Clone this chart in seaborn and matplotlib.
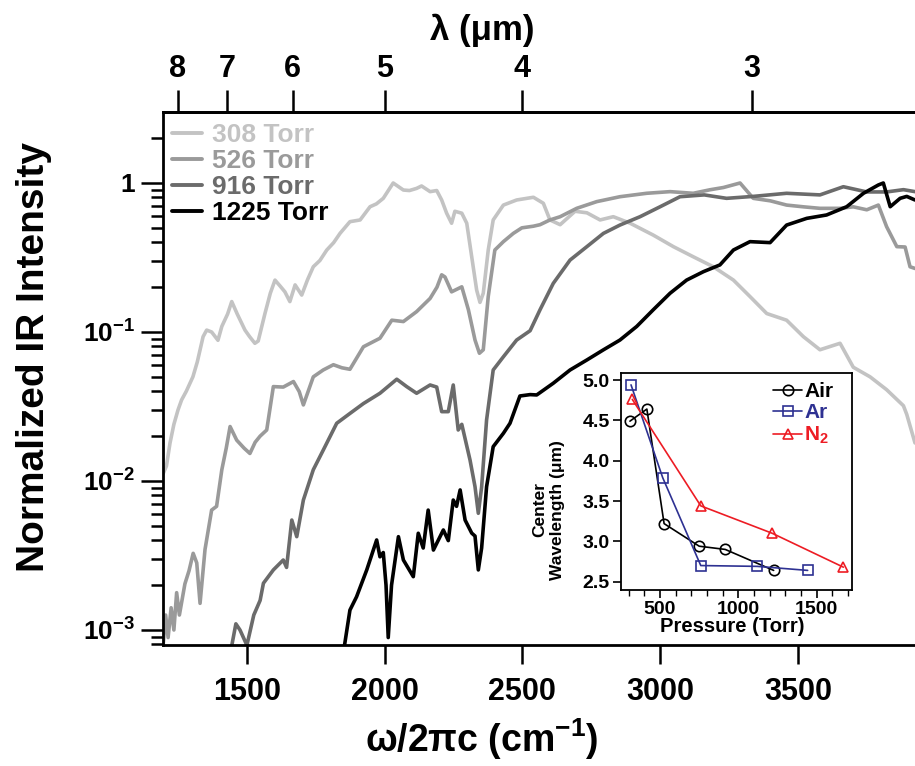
import matplotlib
matplotlib.use("Agg")
import numpy as np
import pandas as pd
import matplotlib.pyplot as plt
import seaborn as sns
from matplotlib.lines import Line2D
from matplotlib.ticker import FixedLocator, FixedFormatter, LogLocator, NullFormatter, MultipleLocator, FormatStrFormatter

# ---------------- main spectra ----------------
omega_308 = [1196, 1208, 1221, 1235, 1250, 1263, 1280, 1304, 1320, 1341, 1354, 1372, 1395, 1409, 1430,
             1445, 1465, 1493, 1510, 1529, 1541, 1566, 1585, 1602, 1620, 1638, 1656, 1675, 1699, 1720,
             1741, 1765, 1790, 1815, 1838, 1874, 1911, 1947, 1970, 1995, 2031, 2068, 2090, 2116, 2134,
             2165, 2189, 2207, 2225, 2243, 2255, 2280, 2298, 2316, 2334, 2346, 2358, 2376, 2394, 2431,
             2479, 2540, 2576, 2600, 2637, 2691, 2734, 2782, 2830, 2891, 2975, 3048, 3120, 3193, 3266,
             3326, 3387, 3459, 3520, 3580, 3653, 3701, 3762, 3822, 3883, 3895, 3925]
int_308 = [0.0112, 0.0126, 0.018, 0.024, 0.030, 0.035, 0.040, 0.050, 0.063, 0.093, 0.103, 0.100, 0.088, 0.109, 0.132,
           0.160, 0.132, 0.103, 0.093, 0.084, 0.087, 0.134, 0.182, 0.223, 0.204, 0.186, 0.160, 0.207, 0.177, 0.224,
           0.274, 0.302, 0.355, 0.398, 0.459, 0.550, 0.565, 0.693, 0.724, 0.789, 1.000, 0.897, 0.890, 0.920, 0.955,
           0.875, 0.890, 0.769, 0.627, 0.537, 0.646, 0.627, 0.537, 0.320, 0.191, 0.158, 0.182, 0.355, 0.565, 0.711,
           0.769, 0.802, 0.731, 0.565, 0.525, 0.646, 0.631, 0.565, 0.594, 0.537, 0.447, 0.374, 0.320, 0.274, 0.223,
           0.173, 0.133, 0.120, 0.093, 0.076, 0.084, 0.058, 0.050, 0.041, 0.032, 0.028, 0.018]

omega_526 = [1196, 1205, 1214, 1225, 1235, 1245, 1255, 1275, 1290, 1305, 1318, 1330, 1348, 1372, 1390,
             1409, 1425, 1439, 1463, 1490, 1511, 1530, 1548, 1572, 1596, 1632, 1669, 1690, 1705, 1741,
             1777, 1814, 1845, 1874, 1923, 1983, 2026, 2068, 2116, 2165, 2190, 2207, 2219, 2243, 2280,
             2304, 2328, 2344, 2358, 2376, 2400, 2431, 2467, 2498, 2540, 2564, 2600, 2637, 2697, 2770,
             2854, 2951, 3036, 3120, 3180, 3230, 3290, 3338, 3400, 3459, 3520, 3580, 3653, 3701, 3750,
             3792, 3822, 3859, 3889, 3907, 3925]
int_526 = [0.00079, 0.00126, 0.00089, 0.00141, 0.0010, 0.00178, 0.00126, 0.00204, 0.0025, 0.00327, 0.00282, 0.00151, 0.00347, 0.00638, 0.00676,
           0.0119, 0.0166, 0.0232, 0.0188, 0.0166, 0.0153, 0.0182, 0.020, 0.022, 0.043, 0.0427, 0.0465, 0.0398, 0.0324, 0.050,
           0.0556, 0.0603, 0.0575, 0.0562, 0.0796, 0.0908, 0.120, 0.1175, 0.137, 0.168, 0.200, 0.242, 0.234, 0.186, 0.201,
           0.141, 0.0883, 0.072, 0.076, 0.173, 0.355, 0.404, 0.459, 0.500, 0.513, 0.525, 0.565, 0.594, 0.676, 0.750,
           0.809, 0.853, 0.875, 0.853, 0.90, 0.933, 1.000, 0.789, 0.759, 0.711, 0.692, 0.676, 0.676, 0.692, 0.661,
           0.711, 0.509, 0.374, 0.372, 0.274, 0.267]

omega_916 = [1440, 1460, 1475, 1500, 1525, 1548, 1560, 1596, 1632, 1644, 1663, 1681, 1705, 1741, 1777,
             1826, 1874, 1923, 1983, 2044, 2080, 2116, 2165, 2189, 2207, 2231, 2249, 2267, 2280, 2310,
             2328, 2340, 2352, 2370, 2394, 2431, 2479, 2528, 2564, 2612, 2673, 2734, 2794, 2854, 2927,
             3000, 3072, 3160, 3241, 3338, 3459, 3580, 3665, 3750, 3822, 3883, 3925]
int_916 = [0.0007, 0.0011, 0.0010, 0.00079, 0.00126, 0.00158, 0.00206, 0.00253, 0.00295, 0.00263, 0.00547, 0.00423, 0.00745, 0.0119, 0.0161,
           0.0244, 0.0284, 0.0331, 0.0388, 0.0482, 0.0430, 0.0388, 0.0441, 0.0427, 0.0292, 0.0292, 0.0441, 0.022, 0.024, 0.0138,
           0.00916, 0.00607, 0.00912, 0.0257, 0.0556, 0.0682, 0.0883, 0.102, 0.141, 0.212, 0.304, 0.374, 0.459, 0.522, 0.594,
           0.693, 0.809, 0.832, 0.789, 0.813, 0.853, 0.832, 0.944, 0.871, 0.871, 0.902, 0.875]

omega_1225 = [1850, 1874, 1898, 1935, 1971, 1983, 1995, 2005, 2013, 2025, 2050, 2068, 2104, 2122, 2140,
              2158, 2177, 2213, 2231, 2249, 2261, 2274, 2292, 2316, 2328, 2340, 2352, 2370, 2394, 2431,
              2455, 2491, 2528, 2552, 2612, 2673, 2734, 2794, 2854, 2915, 2975, 3036, 3096, 3157, 3217,
              3266, 3326, 3399, 3459, 3532, 3604, 3677, 3738, 3792, 3810, 3835, 3871, 3895, 3925]
int_1225 = [0.0007, 0.00136, 0.00167, 0.00253, 0.00402, 0.0031, 0.00331, 0.0020, 0.00089, 0.0020, 0.00423, 0.00295, 0.00228, 0.00446, 0.00355,
            0.00638, 0.00344, 0.00469, 0.00398, 0.00745, 0.00676, 0.00871, 0.00547, 0.00447, 0.00427, 0.00253, 0.00355, 0.00916, 0.0170, 0.0209,
            0.0244, 0.0372, 0.038, 0.0378, 0.0453, 0.0556, 0.0649, 0.0759, 0.0883, 0.109, 0.141, 0.182, 0.223, 0.254, 0.282,
            0.355, 0.404, 0.398, 0.522, 0.579, 0.610, 0.693, 0.853, 0.970, 1.000, 0.693, 0.789, 0.813, 0.769]

series_labels = ["308 Torr", "526 Torr", "916 Torr", "1225 Torr"]
series_colors = ["#c3c3c3", "#9a9a9a", "#6b6b6b", "#000000"]

x_ticks = [1500, 2000, 2500, 3000, 3500]
lambda_ticks = [8, 7, 6, 5, 4, 3]
y_ticks = [1e-3, 1e-2, 1e-1, 1]
y_tick_labels = ["$10^{-3}$", "$10^{-2}$", "$10^{-1}$", "1"]

# ---------------- inset data ----------------
air_p = [308, 416, 526, 750, 916, 1225]
air_w = [4.49, 4.64, 3.22, 2.94, 2.90, 2.64]
ar_p = [315, 517, 760, 1120, 1442]
ar_w = [4.94, 3.79, 2.70, 2.69, 2.64]
n2_p = [323, 760, 1216, 1670]
n2_w = [4.76, 3.44, 3.10, 2.68]
inset_labels = ["Air", "Ar", "N$_2$"]
inset_colors = ["#000000", "#2e3192", "#ed1c24"]
inset_markers = ["o", "s", "^"]

# ---------------- style ----------------
sns.set_style("ticks")
plt.rcParams['font.family'] = ['Liberation Sans', 'DejaVu Sans']
plt.rcParams['font.weight'] = 'bold'
plt.rcParams['mathtext.fontset'] = 'custom'
plt.rcParams['mathtext.rm'] = 'Liberation Sans:bold'
plt.rcParams['mathtext.bf'] = 'Liberation Sans:bold'
plt.rcParams['mathtext.it'] = 'Liberation Sans:bold:italic'
plt.rcParams['mathtext.default'] = 'bf'
for key in ['text.color', 'axes.labelcolor', 'xtick.color', 'ytick.color', 'axes.edgecolor']:
    plt.rcParams[key] = 'black'

W, H = 915, 766
fig = plt.figure(figsize=(W / 100, H / 100), dpi=100)
fig.patch.set_facecolor("white")
ax = fig.add_axes([163 / W, (H - 645) / H, (W - 163) / W, (645 - 112) / H])

frames = []
for om, it, lab in zip([omega_308, omega_526, omega_916, omega_1225],
                       [int_308, int_526, int_916, int_1225], series_labels):
    frames.append(pd.DataFrame({"omega": om, "intensity": it, "series": lab}))
df = pd.concat(frames, ignore_index=True)

sns.lineplot(data=df, x="omega", y="intensity", hue="series", hue_order=series_labels,
             palette=dict(zip(series_labels, series_colors)), estimator=None, sort=False,
             lw=2.6, ax=ax, legend=False)

ax.set_yscale("log")
ax.set_xlim(1195.5, 3925)
ax.set_ylim(10 ** -3.1007, 10 ** 0.4765)

ax.xaxis.set_major_locator(FixedLocator(x_ticks))
ax.yaxis.set_major_locator(FixedLocator(y_ticks))
ax.yaxis.set_major_formatter(FixedFormatter(y_tick_labels))
ax.yaxis.set_minor_locator(LogLocator(base=10, subs=np.arange(2, 10), numticks=20))
ax.yaxis.set_minor_formatter(NullFormatter())

for sp in ["left", "top", "bottom"]:
    ax.spines[sp].set_linewidth(2.0)
    ax.spines[sp].set_color("black")
ax.spines["right"].set_visible(False)
ax.tick_params(axis="x", which="major", direction="out", length=14, width=1.8, labelsize=22, pad=9, top=False)
ax.tick_params(axis="y", which="major", direction="out", length=16, width=1.8, labelsize=19, pad=4)
ax.tick_params(axis="y", which="minor", direction="out", length=8.5, width=1.8)

ax.set_xlabel("ω/2πc (cm$^{-1}$)", fontsize=27, fontweight="bold", va="top")
ax.xaxis.set_label_coords((482 - 163) / 752, (645 - 716) / 533)
ax.set_ylabel("Normalized IR Intensity", fontsize=28, fontweight="bold")
ax.yaxis.set_label_coords((52 - 163) / 752, (645 - 357) / 533)

secax = ax.secondary_xaxis("top", functions=(lambda x: 1e4 / np.asarray(x, dtype=float),
                                             lambda x: 1e4 / np.asarray(x, dtype=float)))
secax.xaxis.set_major_locator(FixedLocator(lambda_ticks))
secax.xaxis.set_major_formatter(FixedFormatter([str(v) for v in lambda_ticks]))
secax.xaxis.set_minor_locator(FixedLocator([]))
secax.tick_params(axis="x", direction="out", length=16, width=1.8, labelsize=22, pad=4, colors="black")
secax.spines["top"].set_linewidth(2.0)
secax.spines["top"].set_color("black")
fig.text(482 / W, 1 - 30 / H, "λ (μm)", fontsize=25, fontweight="bold", ha="center", va="center")

handles = [Line2D([], [], color=c, lw=2.8) for c in series_colors]
leg = ax.legend(handles, series_labels, loc="upper left",
                bbox_to_anchor=((172 - 163) / 752, (645 - 123) / 533),
                frameon=False, prop={"size": 19, "weight": "bold"},
                handlelength=1.15, handletextpad=0.35, labelspacing=0.08,
                borderaxespad=0, borderpad=0, labelcolor=series_colors)

# ---------------- inset ----------------
axin = fig.add_axes([621 / W, (H - 590) / H, (852 - 621) / W, (590 - 373) / H])
axin.set_facecolor("white")
for px, wv, lab, col, mk in zip([air_p, ar_p, n2_p], [air_w, ar_w, n2_w],
                                inset_labels, inset_colors, inset_markers):
    sns.lineplot(x=px, y=wv, color=col, marker=mk, markersize=7.5, markerfacecolor="none",
                 markeredgecolor=col, markeredgewidth=1.2, lw=1.2, ax=axin, sort=False,
                 estimator=None)
axin.set_xlim(251, 1725)
axin.set_ylim(2.397, 5.087)
axin.xaxis.set_major_locator(MultipleLocator(500))
axin.xaxis.set_minor_locator(MultipleLocator(100))
axin.yaxis.set_major_locator(MultipleLocator(0.5))
axin.yaxis.set_major_formatter(FormatStrFormatter("%.1f"))
for sp in axin.spines.values():
    sp.set_visible(True)
    sp.set_linewidth(1.3)
    sp.set_color("black")
axin.tick_params(axis="both", which="major", direction="out", length=6, width=1.2, labelsize=14, pad=2)
axin.tick_params(axis="x", which="minor", direction="out", length=4, width=1.0)
axin.set_xlabel("Pressure (Torr)", fontsize=14.5, fontweight="bold", va="top")
axin.xaxis.set_label_coords(0.48, (590 - 617) / 217)
axin.set_ylabel("Center\nWavelength (μm)", fontsize=12.5, fontweight="bold", multialignment="center")
axin.yaxis.set_label_coords((565 - 621) / 231, 0.37)

ih = [Line2D([], [], color=c, marker=m, markersize=7.5, markerfacecolor="none",
             markeredgecolor=c, markeredgewidth=1.2, lw=1.2)
      for c, m in zip(inset_colors, inset_markers)]
axin.legend(ih, inset_labels, loc="upper left", bbox_to_anchor=((773 - 621) / 231, (590 - 382) / 217),
            frameon=False, prop={"size": 15, "weight": "bold"}, handlelength=1.4,
            handletextpad=0.1, labelspacing=0.12, borderaxespad=0, borderpad=0,
            labelcolor=inset_colors)

fig.savefig("out.png", dpi=100, facecolor="white")
